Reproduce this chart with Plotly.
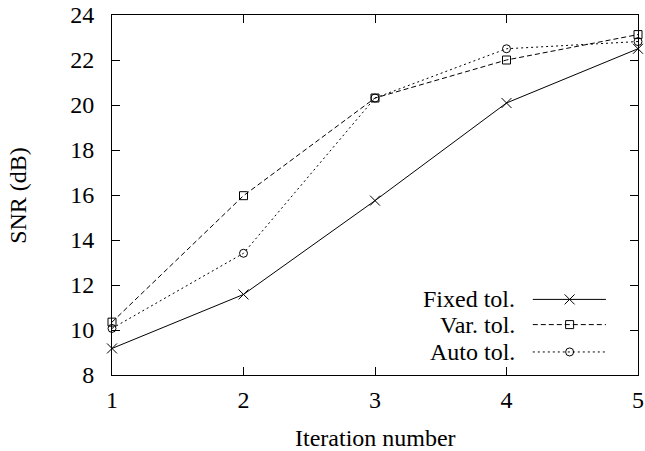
import plotly.graph_objects as go

iterations = [1, 2, 3, 4, 5]
fixed_tol = [9.18, 11.58, 15.75, 20.09, 22.5]
var_tol = [10.35, 15.97, 20.31, 22.0, 23.13]
auto_tol = [10.07, 13.41, 20.31, 22.5, 22.82]

series_names = ["Fixed tol.", "Var. tol.", "Auto tol."]
x_ticks = [1, 2, 3, 4, 5]
y_ticks = [8, 10, 12, 14, 16, 18, 20, 22, 24]
x_title = "Iteration number"
y_title = "SNR (dB)"

FONT = "Liberation Serif"
styles = [
    dict(dash="solid", symbol="x-thin-open", size=10),
    dict(dash="5px,3px", symbol="square-open", size=8),
    dict(dash="2px,3px", symbol="circle-open", size=8),
]

fig = go.Figure()
for name, ys, st in zip(series_names, [fixed_tol, var_tol, auto_tol], styles):
    fig.add_trace(go.Scatter(
        x=iterations, y=ys, mode="lines+markers", name=name, showlegend=False,
        line=dict(color="black", width=1, dash=st["dash"]),
        marker=dict(symbol=st["symbol"], size=st["size"], color="black",
                    line=dict(color="black", width=1)),
        cliponaxis=False,
    ))

# manual gnuplot-style legend (text left, sample right) on an overlay axis
leg_rows = [0.210, 0.140, 0.064]
for name, row, st in zip(series_names, leg_rows, styles):
    fig.add_trace(go.Scatter(
        x=[0.800, 0.939], y=[row, row], mode="lines", xaxis="x2", yaxis="y2",
        showlegend=False, hoverinfo="skip",
        line=dict(color="black", width=1, dash=st["dash"]),
    ))
    fig.add_trace(go.Scatter(
        x=[0.870], y=[row], mode="markers", xaxis="x2", yaxis="y2",
        showlegend=False, hoverinfo="skip",
        marker=dict(symbol=st["symbol"], size=st["size"], color="black",
                    line=dict(color="black", width=1)),
    ))
    fig.add_annotation(x=0.770, y=row, xref="x2", yref="y2", text=name,
                       showarrow=False, xanchor="right", yanchor="middle",
                       font=dict(family=FONT, size=24, color="black"))

# axis titles
fig.add_annotation(x=0.5, y=-0.176, xref="paper", yref="paper", text=x_title,
                   showarrow=False, xanchor="center", yanchor="middle", borderpad=0,
                   font=dict(family=FONT, size=24, color="black"))
fig.add_annotation(x=-0.179, y=0.5, xref="paper", yref="paper", text=y_title,
                   showarrow=False, xanchor="center", yanchor="middle", textangle=-90,
                   font=dict(family=FONT, size=24, color="black"))

axis_common = dict(
    showgrid=False, zeroline=False, showline=True, linecolor="black", linewidth=1,
    mirror="allticks", ticks="inside", ticklen=8, tickwidth=1, tickcolor="black",
    tickfont=dict(family=FONT, size=24, color="black"), automargin=False,
)

fig.update_layout(
    width=645, height=451,
    margin=dict(l=112, r=7, t=15, b=76),
    paper_bgcolor="white", plot_bgcolor="white",
    font=dict(family=FONT, size=24, color="black"),
    xaxis=dict(range=[1, 5], tickvals=x_ticks, ticktext=[str(v) for v in x_ticks],
               ticklabelstandoff=3, **axis_common),
    yaxis=dict(range=[8, 24], tickvals=y_ticks, ticktext=[str(v) for v in y_ticks],
               ticklabelstandoff=12, **axis_common),
    xaxis2=dict(range=[0, 1], overlaying="x", visible=False, fixedrange=True),
    yaxis2=dict(range=[0, 1], overlaying="y", visible=False, fixedrange=True),
    showlegend=False,
)

fig.write_html("out.html", config={"displayModeBar": False},
               post_script="document.body.style.margin='0';")
